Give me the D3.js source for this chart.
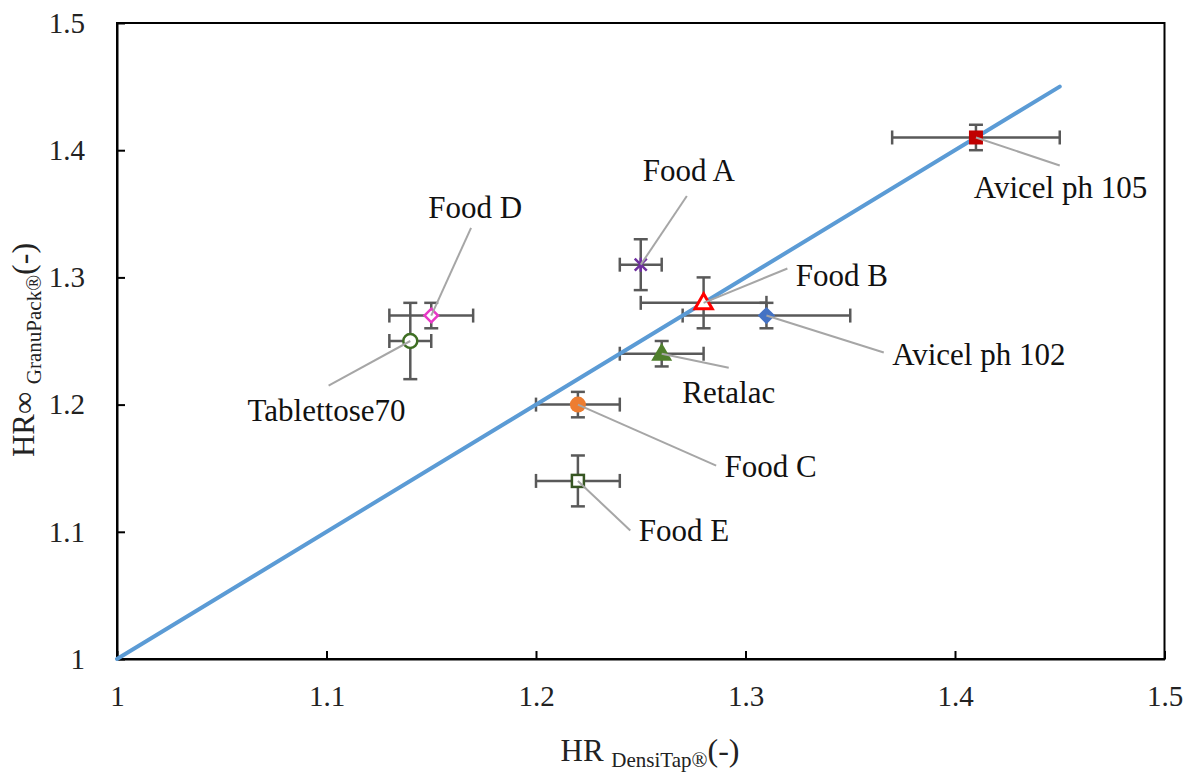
<!DOCTYPE html>
<html><head><meta charset="utf-8">
<script src="https://cdn.jsdelivr.net/npm/d3@7"></script>
<style>body{margin:0;background:#fff}svg{display:block}</style>
</head><body><svg id="c" width="1187" height="773"></svg>
<script>
// ---- data ----
const names = ["Avicel ph 105","Food A","Food B","Avicel ph 102","Retalac","Food C","Food E","Food D","Tablettose70"];
const hrDensiTap  = [1.41,1.25,1.28,1.31,1.26,1.22,1.22,1.15,1.14];
const hrGranuPack = [1.41,1.31,1.28,1.27,1.24,1.20,1.14,1.27,1.25];
const errDensiTap  = [0.04,0.01,0.03,0.04,0.02,0.02,0.02,0.02,0.01];
const errGranuPack = [0.01,0.02,0.02,0.01,0.01,0.01,0.02,0.01,0.03];
const xTicks = [1,1.1,1.2,1.3,1.4,1.5];
const yTicks = [1,1.1,1.2,1.3,1.4,1.5];
const identityLine = [1, 1.45];
// annotation label anchors, in data units
const labelX = [1.409,1.273,1.324,1.370,1.292,1.290,1.249,1.171,1.100];
const labelY = [1.371,1.384,1.302,1.240,1.210,1.152,1.101,1.355,1.196];
const leaderX = [1.450,1.272,1.320,1.366,1.292,1.286,1.245,1.169,1.101];
const leaderY = [1.388,1.364,1.307,1.241,1.229,1.152,1.101,1.339,1.215];
const labelAnchor = ["start","middle","start","start","middle","start","start","middle","middle"];

// ---- styles ----
const markerKind = ["squareFill","star","triOpen","diamondFill","triFill","circleFill","squareOpen","diamondOpen","circleOpen"];
const markerColor = ["#c00000","#7030a0","#ff0000","#4472c4","#4f7f2c","#ed7d31","#375623","#e839c6","#3f6f24"];

const svg = d3.select("#c");
const W = 1187, H = 773;
const m = {l:117, r:1164.5, t:23, b:659};
const x = d3.scaleLinear().domain([1,1.5]).range([m.l, m.r]);
const y = d3.scaleLinear().domain([1,1.5]).range([m.b, m.t]);
const font = "'Liberation Serif','Times New Roman',serif";

svg.append("rect").attr("width",W).attr("height",H).attr("fill","#fff");

// frame
svg.append("rect").attr("x",m.l).attr("y",m.t).attr("width",m.r-m.l).attr("height",m.b-m.t)
  .attr("fill","none").attr("stroke","#000").attr("stroke-width",2);

// axes
const gx = svg.append("g").attr("transform",`translate(0,${m.b})`)
  .call(d3.axisBottom(x).tickValues(xTicks).tickFormat(d3.format("")).tickSizeInner(-8).tickSizeOuter(0).tickPadding(26));
const gy = svg.append("g").attr("transform",`translate(${m.l},0)`)
  .call(d3.axisLeft(y).tickValues(yTicks).tickFormat(d3.format("")).tickSizeInner(-8).tickSizeOuter(0).tickPadding(32));
[gx,gy].forEach(g=>{
  g.select(".domain").attr("stroke","#000").attr("stroke-width",2);
  g.selectAll(".tick line").attr("stroke","#000").attr("stroke-width",2);
  g.selectAll(".tick text").attr("font-family",font).attr("font-size",29).attr("fill","#222");
});

const idx = d3.range(names.length);
const ec = "#595959", cap = 7;
const eb = svg.append("g").attr("stroke",ec).attr("stroke-width",2.5);
idx.forEach(i=>{
  const cx = x(hrDensiTap[i]), cy = y(hrGranuPack[i]);
  const x0 = x(hrDensiTap[i]-errDensiTap[i]), x1 = x(hrDensiTap[i]+errDensiTap[i]);
  const y0 = y(hrGranuPack[i]-errGranuPack[i]), y1 = y(hrGranuPack[i]+errGranuPack[i]);
  eb.append("line").attr("x1",x0).attr("x2",x1).attr("y1",cy).attr("y2",cy);
  eb.append("line").attr("x1",x0).attr("x2",x0).attr("y1",cy-cap).attr("y2",cy+cap);
  eb.append("line").attr("x1",x1).attr("x2",x1).attr("y1",cy-cap).attr("y2",cy+cap);
  eb.append("line").attr("y1",y0).attr("y2",y1).attr("x1",cx).attr("x2",cx);
  eb.append("line").attr("y1",y0).attr("y2",y0).attr("x1",cx-cap).attr("x2",cx+cap);
  eb.append("line").attr("y1",y1).attr("y2",y1).attr("x1",cx-cap).attr("x2",cx+cap);
});

// identity line
svg.append("line").attr("x1",x(identityLine[0])).attr("y1",y(identityLine[0]))
  .attr("x2",x(identityLine[1])).attr("y2",y(identityLine[1]))
  .attr("stroke","#5b9bd5").attr("stroke-width",4).attr("stroke-linecap","round");

// markers
const mk = svg.append("g");
idx.forEach(i=>{
  const cx = x(hrDensiTap[i]), cy = y(hrGranuPack[i]), c = markerColor[i];
  const g = mk.append("g").attr("transform",`translate(${cx},${cy})`);
  switch(markerKind[i]){
    case "squareFill": g.append("rect").attr("x",-7).attr("y",-7).attr("width",14).attr("height",14).attr("fill",c); break;
    case "squareOpen": g.append("rect").attr("x",-6).attr("y",-6).attr("width",12).attr("height",12).attr("fill","#fff").attr("stroke",c).attr("stroke-width",2.5); break;
    case "triOpen": g.append("path").attr("d",d3.symbol(d3.symbolTriangle,130)()).attr("transform","translate(0,1)").attr("fill","#fff").attr("stroke",c).attr("stroke-width",3); break;
    case "triFill": g.append("path").attr("d",d3.symbol(d3.symbolTriangle,190)()).attr("transform","translate(0,1)").attr("fill",c); break;
    case "diamondFill": g.append("path").attr("d",d3.symbol(d3.symbolSquare,150)()).attr("transform","rotate(45)").attr("fill",c); break;
    case "diamondOpen": g.append("path").attr("d",d3.symbol(d3.symbolSquare,90)()).attr("transform","rotate(45)").attr("fill","#fff").attr("stroke",c).attr("stroke-width",2.5); break;
    case "circleFill": g.append("circle").attr("r",8).attr("fill",c); break;
    case "circleOpen": g.append("circle").attr("r",7).attr("fill","#fff").attr("stroke",c).attr("stroke-width",2.5); break;
    case "star":
      g.append("path").attr("d","M-6,-6L6,6M-6,6L6,-6M0,-7L0,7").attr("stroke",c).attr("stroke-width",2.5).attr("fill","none"); break;
  }
});

// leader lines + labels
const lab = svg.append("g");
idx.forEach(i=>{
  lab.append("line").attr("x1",x(hrDensiTap[i])).attr("y1",y(hrGranuPack[i]))
    .attr("x2",x(leaderX[i])).attr("y2",y(leaderY[i]))
    .attr("stroke","#a6a6a6").attr("stroke-width",2);
  lab.append("text").attr("x",x(labelX[i])).attr("y",y(labelY[i])).attr("dy","0.35em")
    .attr("text-anchor",labelAnchor[i]).attr("font-family",font).attr("font-size",31).attr("fill","#111")
    .text(names[i]);
});

// axis titles
const xt = svg.append("text").attr("x",650).attr("y",761).attr("text-anchor","middle")
  .attr("font-family",font).attr("fill","#222");
xt.append("tspan").attr("font-size",31).text("HR ");
xt.append("tspan").attr("font-size",21).attr("dy",6).text("DensiTap®");
xt.append("tspan").attr("font-size",32).attr("dy",-6).text("(-)");

const yt = svg.append("text").attr("transform","translate(34,350) rotate(-90)").attr("text-anchor","middle")
  .attr("font-family",font).attr("fill","#222");
yt.append("tspan").attr("font-size",31).text("HR∞ ");
yt.append("tspan").attr("font-size",21).attr("dy",7).text("GranuPack®");
yt.append("tspan").attr("font-size",32).attr("dy",-7).text("(-)");
</script></body></html>
